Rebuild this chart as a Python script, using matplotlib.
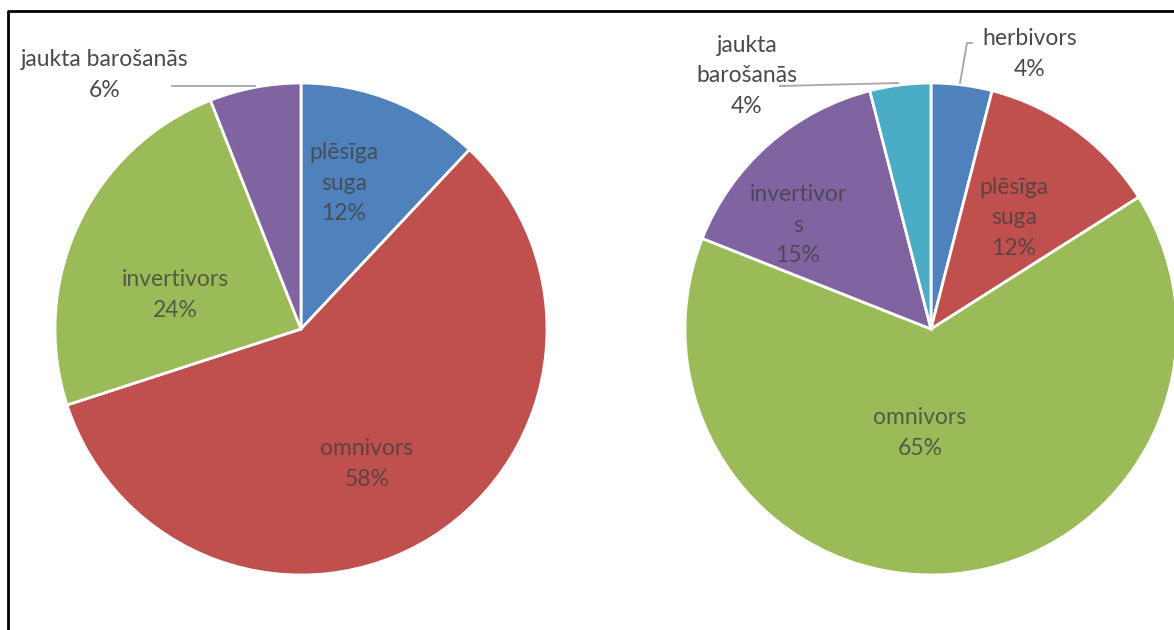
import matplotlib
matplotlib.use("Agg")
import matplotlib.pyplot as plt

# left pie
left_labels = ["plēsīga\nsuga", "omnivors", "invertivors", "jaukta barošanās"]
left_values = [12, 58, 24, 6]
left_colors = ["#4F81BD", "#C0504D", "#9BBB59", "#8064A2"]

# right pie
right_labels = ["herbivors", "plēsīga\nsuga", "omnivors", "invertivor\ns", "jaukta\nbarošanās"]
right_values = [4, 12, 65, 15, 4]
right_colors = ["#4F81BD", "#C0504D", "#9BBB59", "#8064A2", "#4BACC6"]

TEXT = "#404040"
W, H = 1174, 630

fig = plt.figure(figsize=(W / 100, H / 100), dpi=100)
ax = fig.add_axes([0, 0, 1, 1])

font = dict(family=["Lato", "DejaVu Sans"], fontsize=16.5, color=TEXT,
            ha="center", va="center", linespacing=1.55)

# y axis is inverted (pixel coords), so start at -90 and go "counterclock"
# which shows on screen as clockwise from the top
def pie_flipped(values, colors, center):
    wedges, _ = ax.pie(values, colors=colors, center=center, radius=246,
                       startangle=-90, counterclock=True,
                       wedgeprops=dict(edgecolor="white", linewidth=2.0))
    return wedges

pie_flipped(left_values, left_colors, (301, 329))
pie_flipped(right_values, right_colors, (931, 329))
ax.set_xlim(0, W)
ax.set_ylim(H, 0)
ax.set_aspect("equal")
ax.axis("off")

# which labels sit outside the slice
left_outside = [False, False, False, True]
right_outside = [True, False, False, False, True]

# left labels
left_pos = [(344, 183), (367, 464), (175, 295), (105, 75)]
for lab, v, (x, y), out in zip(left_labels, left_values, left_pos, left_outside):
    ax.text(x, y, f"{lab}\n{v}%", alpha=0.95 if out else 0.78, **font)
ax.plot([172, 255], [86, 86], color="#A6A6A6", lw=1.3)

# right labels
right_pos = [(1030, 54), (1014, 218), (920, 433), (798, 225), (747, 76)]
for lab, v, (x, y), out in zip(right_labels, right_values, right_pos, right_outside):
    ax.text(x, y, f"{lab}\n{v}%", alpha=0.95 if out else 0.78, **font)
ax.plot([972, 967, 960], [43, 43, 83], color="#A6A6A6", lw=1.3)
ax.plot([780, 898], [86, 83], color="#A6A6A6", lw=1.3)

# frame lines (left and top)
ax.plot([8, 8, W], [H, 11, 11], color="black", lw=2.0, solid_capstyle="butt")

fig.savefig("out.png", dpi=100)
